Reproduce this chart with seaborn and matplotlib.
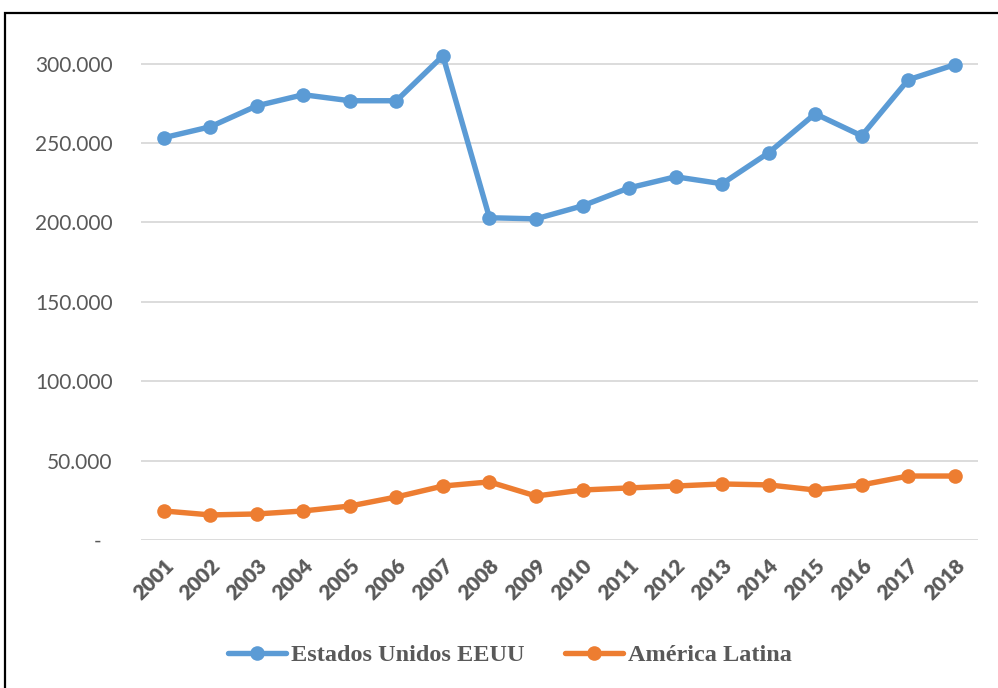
import matplotlib
matplotlib.use("Agg")
import matplotlib.pyplot as plt
import seaborn as sns
import pandas as pd
from matplotlib.patches import Rectangle
from matplotlib.ticker import FuncFormatter
from matplotlib.lines import Line2D

years = [str(y) for y in range(2001, 2019)]
eeuu = [253400, 260300, 273500, 280500, 276700, 276700, 305000, 203000, 202300,
        210500, 221800, 228800, 224400, 243900, 268500, 254600, 289900, 299400]
latam = [18300, 15800, 16400, 18300, 21400, 27100, 34000, 36600, 27700,
         31500, 32800, 34000, 35300, 34700, 31500, 34700, 40300, 40300]
series_names = ["Estados Unidos EEUU", "América Latina"]
colors = ["#5B9BD5", "#ED7D31"]
yticks = [0, 50000, 100000, 150000, 200000, 250000, 300000]

df = pd.DataFrame({
    "year": years * 2,
    "value": eeuu + latam,
    "serie": [series_names[0]] * len(years) + [series_names[1]] * len(years),
})
df["x"] = list(range(len(years))) * 2

sns.set_theme(style="white")
plt.rcParams["font.family"] = ["Lato", "DejaVu Sans"]

fig = plt.figure(figsize=(9.98, 6.88), dpi=100)
ax = fig.add_axes([140.5 / 998, 1 - 540 / 688, (978 - 140.5) / 998, (540 - 32) / 688])

sns.lineplot(data=df, x="x", y="value", hue="serie", palette=colors,
             marker="o", markersize=10.5, markeredgewidth=0, linewidth=3.9,
             ax=ax, legend=False)

ax.set_xlim(-0.5, len(years) - 0.5)
ax.set_ylim(0, 320000)
ax.set_yticks(yticks)
ax.yaxis.set_major_formatter(FuncFormatter(
    lambda v, p: "-  " if v == 0 else f"{int(v):,}".replace(",", ".")))
ax.set_xticks(range(len(years)))
ax.set_xticklabels(years, rotation=45, ha="right", rotation_mode="anchor",
                   fontweight="heavy", fontsize=15, color="#595959")
ax.tick_params(axis="y", labelsize=15, labelcolor="#595959", length=0, pad=20)
ax.tick_params(axis="x", length=0, pad=11)
ax.grid(axis="y", color="#D9D9D9", linewidth=1.3)
ax.set_axisbelow(True)
for s in ax.spines.values():
    s.set_visible(False)
ax.set_xlabel("")
ax.set_ylabel("")

handles = [Line2D([], [], color=c, marker="o", markersize=10.5, linewidth=3.9,
                  markeredgewidth=0) for c in colors]
leg = fig.legend(handles, series_names, loc="center", bbox_to_anchor=(510 / 998, 1 - 655 / 688),
                 ncol=2, frameon=False, handlelength=2.4, columnspacing=1.65, handletextpad=0.2,
                 borderpad=0, borderaxespad=0,
                 prop={"family": "Liberation Serif", "weight": "bold", "size": 17.5})
for t in leg.get_texts():
    t.set_color("#595959")

fig.patches.append(Rectangle((5 / 998, -0.01), 1.0, 1 - 13 / 688 + 0.01,
                             transform=fig.transFigure, fill=False,
                             edgecolor="black", linewidth=1.6, clip_on=False))

fig.savefig("out.png", dpi=100)
